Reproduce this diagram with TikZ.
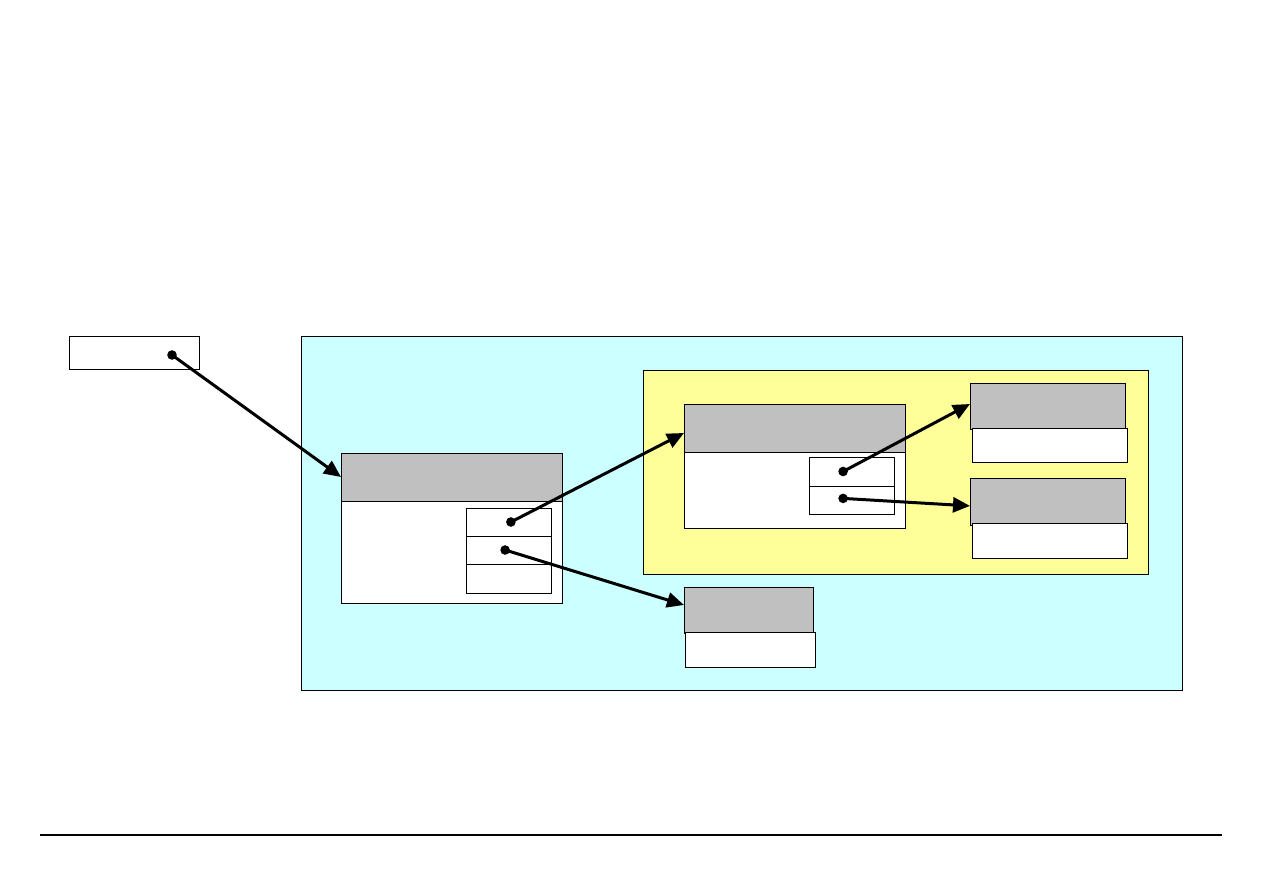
\documentclass[tikz,border=0pt]{standalone}
\usetikzlibrary{arrows.meta}
\definecolor{cyanbg}{HTML}{CCFFFF}
\definecolor{yellowbg}{HTML}{FFFF99}
\definecolor{hdrgray}{HTML}{C0C0C0}
\tikzset{
  box/.style={draw=black, line width=0.5pt, inner sep=0pt, outer sep=0pt, anchor=north west},
  wbox/.style={box, fill=white},
  gbox/.style={box, fill=hdrgray},
  ptr/.style={line width=1.5pt, -{Triangle[length=8.5pt,width=7.5pt]}},
  dot/.style={fill=black}
}
\begin{document}
\begin{tikzpicture}[x=0.5pt,y=-0.5pt]
\useasboundingbox (0,0) rectangle (1263,893);
% outer containers
\node[box, fill=cyanbg, minimum width=440.5pt, minimum height=177pt] (cyan) at (301,336) {};
\node[box, fill=yellowbg, minimum width=252.5pt, minimum height=102pt] (yellow) at (643,370) {};
% small box
\node[wbox, minimum width=65pt, minimum height=16.5pt] (s) at (69,336) {};
% box A
\node[wbox, minimum width=110.5pt, minimum height=75pt] (A) at (341,453) {};
\node[gbox, minimum width=110.5pt, minimum height=24pt] (Ah) at (341,453) {};
\node[wbox, minimum width=42.5pt, minimum height=14pt] (Ac1) at (466,508) {};
\node[wbox, minimum width=42.5pt, minimum height=14pt] (Ac2) at (466,536) {};
\node[wbox, minimum width=42.5pt, minimum height=14.5pt] (Ac3) at (466,564) {};
% box B
\node[wbox, minimum width=110.5pt, minimum height=62pt] (B) at (684,404) {};
\node[gbox, minimum width=110.5pt, minimum height=24pt] (Bh) at (684,404) {};
\node[wbox, minimum width=42.5pt, minimum height=14.5pt] (Bc1) at (809,457) {};
\node[wbox, minimum width=42.5pt, minimum height=14pt] (Bc2) at (809,486) {};
% box C
\node[gbox, minimum width=77.5pt, minimum height=23pt] (Cg) at (970,383) {};
\node[wbox, minimum width=77.5pt, minimum height=17pt] (Cw) at (972,428) {};
% box D
\node[gbox, minimum width=77.5pt, minimum height=23.5pt] (Dg) at (970,478) {};
\node[wbox, minimum width=77.5pt, minimum height=17.5pt] (Dw) at (972,523) {};
% box E
\node[gbox, minimum width=64.5pt, minimum height=23pt] (Eg) at (684,587) {};
\node[wbox, minimum width=65pt, minimum height=17.5pt] (Ew) at (685,632) {};
% pointer origins
\coordinate (p0) at (172,355);
\coordinate (p1) at ([xshift=1.2pt]Ac1.center);
\coordinate (p2) at ([xshift=-1.7pt]Ac2.center);
\coordinate (p3) at ([xshift=-4.2pt]Bc1.center);
\coordinate (p4) at ([xshift=-4.2pt,yshift=0.8pt]Bc2.center);
% pointers
\draw[ptr] (p0) -- (Ah.west);
\draw[ptr] (p1) -- ([yshift=-2.5pt]Bh.west);
\draw[ptr] (p2) -- ([yshift=2.5pt]Eg.west);
\draw[ptr] (p3) -- ([yshift=1pt]Cg.west);
\draw[ptr] (p4) -- ([yshift=-2.2pt]Dg.west);
\foreach \p in {p0,p1,p2,p3,p4} \fill[dot] (\p) circle (2.4pt);
% bottom rule
\coordinate (r1) at (40,835);
\coordinate (r2) at (1222,835);
\draw[line width=0.6pt] (r1) -- (r2);
\end{tikzpicture}
\end{document}
